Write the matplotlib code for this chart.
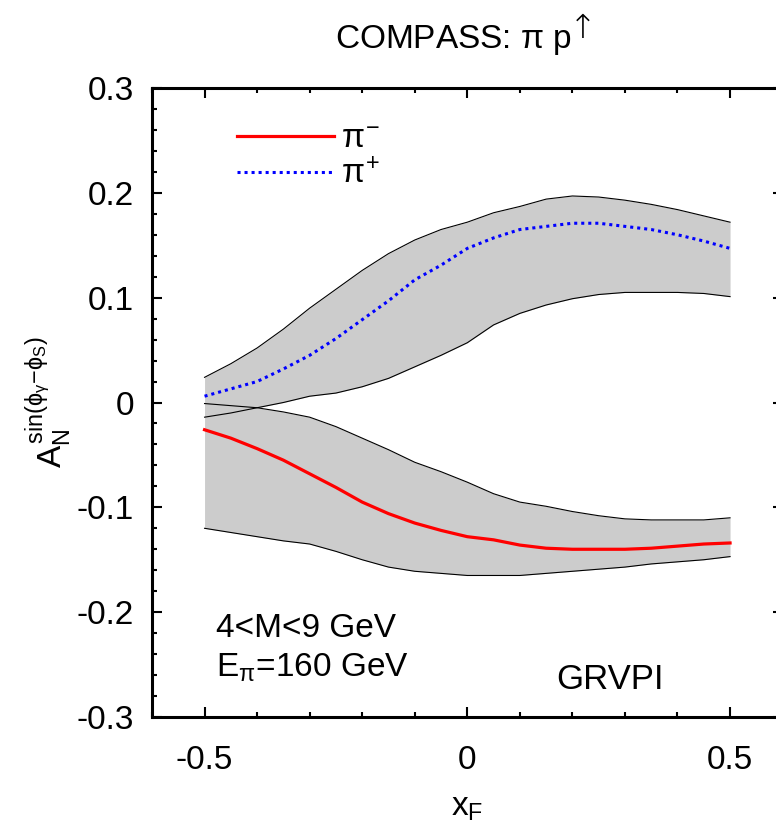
import matplotlib
matplotlib.use('Agg')
import matplotlib.pyplot as plt
import numpy as np

plt.rcParams['font.family'] = ['Liberation Sans', 'DejaVu Sans']
plt.rcParams['mathtext.fontset'] = 'custom'
plt.rcParams['mathtext.rm'] = 'Liberation Sans'
plt.rcParams['mathtext.it'] = 'Liberation Sans'
plt.rcParams['mathtext.bf'] = 'Liberation Sans:bold'

# x_F grid
xf = [-0.5, -0.45, -0.4, -0.35, -0.3, -0.25, -0.2, -0.15, -0.1, -0.05, 0.0,
      0.05, 0.1, 0.15, 0.2, 0.25, 0.3, 0.35, 0.4, 0.45, 0.5]

# pi+ (blue dotted) central and band
pip_mid = [0.006, 0.013, 0.020, 0.032, 0.045, 0.061, 0.079, 0.097, 0.117, 0.131, 0.147,
           0.157, 0.165, 0.168, 0.171, 0.171, 0.168, 0.165, 0.160, 0.154, 0.147]
pip_up = [0.024, 0.037, 0.052, 0.070, 0.090, 0.108, 0.126, 0.142, 0.155, 0.165, 0.172,
          0.181, 0.187, 0.194, 0.197, 0.196, 0.193, 0.189, 0.184, 0.178, 0.172]
pip_lo = [-0.014, -0.010, -0.005, 0.000, 0.006, 0.009, 0.015, 0.023, 0.034, 0.045, 0.057,
          0.074, 0.085, 0.093, 0.099, 0.103, 0.105, 0.105, 0.105, 0.104, 0.101]

# pi- (red solid) central and band
pim_mid = [-0.026, -0.034, -0.044, -0.055, -0.068, -0.081, -0.095, -0.106, -0.115, -0.122, -0.128,
           -0.131, -0.136, -0.139, -0.140, -0.140, -0.140, -0.139, -0.137, -0.135, -0.134]
pim_up = [-0.001, -0.003, -0.005, -0.009, -0.014, -0.023, -0.034, -0.045, -0.057, -0.066, -0.076,
          -0.087, -0.095, -0.099, -0.104, -0.108, -0.111, -0.112, -0.112, -0.112, -0.110]
pim_lo = [-0.120, -0.124, -0.128, -0.132, -0.135, -0.142, -0.150, -0.157, -0.161, -0.163, -0.165,
          -0.165, -0.165, -0.163, -0.161, -0.159, -0.157, -0.154, -0.152, -0.150, -0.147]

fig = plt.figure(figsize=(7.76, 8.24), dpi=100)
ax = fig.add_axes([152/776, 1-717/824, (782.6-152)/776, (717-88)/824])

for lo, up in [(pip_lo, pip_up), (pim_lo, pim_up)]:
    ax.fill_between(xf, lo, up, color='#cccccc', lw=0, zorder=1)
    ax.plot(xf, up, color='black', lw=0.8, zorder=2)
    ax.plot(xf, lo, color='black', lw=0.8, zorder=2)

ax.plot(xf, pim_mid, color='red', lw=2.3, zorder=3, label=r'$\pi^{-}$')
ax.plot(xf, pip_mid, color='blue', lw=2.2, ls=(0, (1, 1.3)), zorder=3, label=r'$\pi^{+}$')

ax.set_xlim(-0.6, 0.6)
ax.set_ylim(-0.3, 0.3)
ax.set_xticks([-0.5, 0, 0.5])
ax.set_xticklabels(['-0.5', '0', '0.5'])
ax.set_xticks(np.arange(-0.6, 0.61, 0.1), minor=True)
ax.set_yticks(np.arange(-0.3, 0.31, 0.1))
ax.set_yticklabels(['-0.3', '-0.2', '-0.1', '0', '0.1', '0.2', '0.3'])
ax.set_yticks(np.arange(-0.3, 0.301, 0.02), minor=True)
ax.tick_params(which='both', direction='in', top=True, right=True, width=1.5, labelsize=24)
ax.tick_params(which='major', length=7)
ax.tick_params(which='minor', length=3.5)
ax.tick_params(axis='x', pad=20)
ax.tick_params(axis='y', pad=13)
for s in ax.spines.values():
    s.set_linewidth(2.2)

# title, drawn as figure text so the arrow can sit at full size
fig.text(335/776, 1-48/824, r'COMPASS: $\pi$ p', fontsize=24, va='baseline', ha='left')
fig.text(583/776, 1-12/824, '\u2191', fontsize=24, va='top', ha='center',
         family=['DejaVu Sans'], fontweight='light')

ax.set_xlabel(r'$x_F$', fontsize=24, labelpad=12)
ax.set_ylabel(r'$A_N^{\sin(\phi_\gamma\!-\!\phi_S)}$', fontsize=24, labelpad=2)

ax.text(-0.479, -0.2238, '4<M<9 GeV', fontsize=24)
ax.text(-0.479, -0.261, r'E$_\pi$=160 GeV', fontsize=24)
ax.text(0.169, -0.273, 'GRVPI', fontsize=25)

ax.legend(loc='upper left', bbox_to_anchor=(0.114, 0.964), frameon=False, fontsize=24,
          handlelength=2.9, handletextpad=0.2, labelspacing=0.12, borderaxespad=0)

fig.savefig('out.png', dpi=100)
